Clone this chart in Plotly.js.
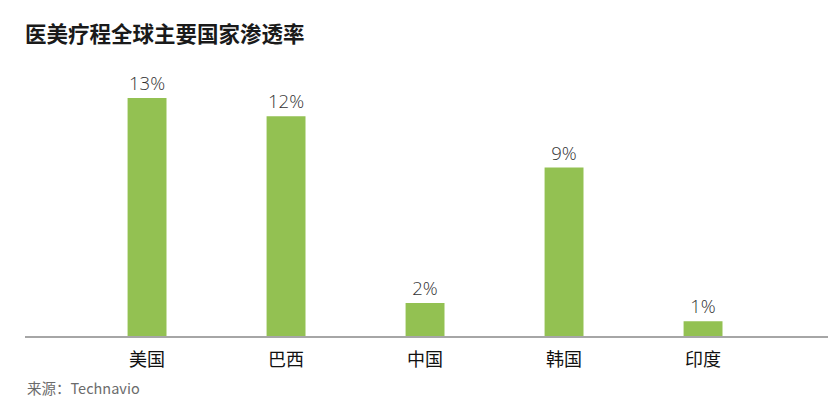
<!DOCTYPE html>
<html>
<head>
<meta charset="utf-8">
<script src="https://cdn.plot.ly/plotly-3.0.1.min.js"></script>
<style>
  html, body { margin: 0; padding: 0; background: #fff; }
  #chart { width: 840px; height: 420px; }
</style>
</head>
<body>
<div id="chart"></div>
<script>
// 医美疗程全球主要国家渗透率
const countries = ['美国', '巴西', '中国', '韩国', '印度'];
const penetration = [13, 12, 1.8, 9.2, 0.8];
const barLabels = ['13%', '12%', '2%', '9%', '1%'];

const cjk = '"Noto Sans CJK SC", "Open Sans", sans-serif';

const trace = {
  type: 'bar',
  x: countries,
  y: penetration,
  text: barLabels,
  textposition: 'outside',
  cliponaxis: false,
  textfont: { family: '"Open Sans", ' + cjk, size: 18.5, weight: 300, color: '#333' },
  marker: { color: '#93c152' },
  hoverinfo: 'x+text'
};

const layout = {
  width: 840,
  height: 420,
  margin: { l: 25, r: 12, t: 60, b: 84 },
  paper_bgcolor: '#fff',
  plot_bgcolor: '#fff',
  showlegend: false,
  bargap: 0.72,
  title: {
    text: '<b>医美疗程全球主要国家渗透率</b>',
    font: { family: cjk, size: 21.5, color: '#1a1a1a' },
    x: 25 / 840, xref: 'container', xanchor: 'left',
    y: 1 - 34 / 420, yref: 'container', yanchor: 'middle'
  },
  xaxis: {
    type: 'category',
    range: [-0.878, 4.899],
    showline: true,
    linecolor: '#a6a6a6',
    linewidth: 1.5,
    ticks: '',
    ticklabelstandoff: 7,
    tickfont: { family: cjk, size: 18, color: '#111' },
    showgrid: false,
    zeroline: false
  },
  yaxis: {
    range: [0, 15.07],
    visible: false,
    showgrid: false,
    zeroline: false
  },
  annotations: [{
    text: '来源：Technavio',
    xref: 'paper', yref: 'paper',
    x: 0, y: -0.187,
    xanchor: 'left', yanchor: 'middle',
    showarrow: false,
    font: { family: cjk, size: 14.5, color: '#6b6b6b' }
  }]
};

Plotly.newPlot('chart', [trace], layout, { displayModeBar: false, staticPlot: true });
</script>
</body>
</html>
